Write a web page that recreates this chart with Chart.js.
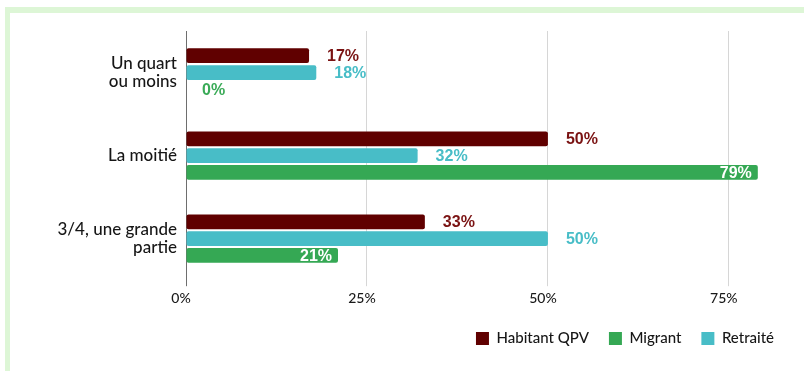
<!DOCTYPE html>
<html lang="fr">
<head>
<meta charset="utf-8">
<title>Part du revenu</title>
<script src="https://cdn.jsdelivr.net/npm/chart.js@4.4.1/dist/chart.umd.min.js"></script>
<style>
  html, body { margin: 0; padding: 0; background: #ffffff; }
  #wrap { position: relative; width: 804px; height: 371px; overflow: hidden; }
  #frame {
    position: absolute; left: 5px; top: 7px; right: -20px; bottom: -20px;
    border-left: 5px solid #ddf6d6; border-top: 6px solid #ddf6d6;
  }
  #chart { position: absolute; left: 0; top: 0; }
</style>
</head>
<body>
<div id="wrap">
  <div id="frame"></div>
  <canvas id="chart" width="804" height="371"></canvas>
</div>
<script>
// Catégories (axe vertical) et séries
const categories = [["Un quart", "ou moins"], "La moitié", ["3/4, une grande", "partie"]];
const habitantQPV = [17, 50, 33];
const retraite = [18, 32, 50];
const migrant = [0, 79, 21];
const xTicks = [0, 25, 50, 75];

const seriesNames = ["Habitant QPV", "Retraité", "Migrant"];
const legendOrder = ["Habitant QPV", "Migrant", "Retraité"];

const COLORS = {
  "Habitant QPV": { bar: "#600000", text: "#7a1212" },
  "Retraité": { bar: "#48bdc7", text: "#48bdc7" },
  "Migrant": { bar: "#35a854", text: "#3aaa57" }
};

// Étiquettes de valeur : à l'extérieur de la barre, ou à l'intérieur (en blanc) pour « Migrant »
const valueLabels = {
  id: "valueLabels",
  afterDatasetsDraw(chart) {
    const ctx = chart.ctx;
    ctx.save();
    ctx.font = "bold 16px 'Liberation Sans', Arial, sans-serif";
    ctx.textBaseline = "middle";
    chart.data.datasets.forEach((ds, di) => {
      const meta = chart.getDatasetMeta(di);
      meta.data.forEach((bar, i) => {
        const v = ds.data[i];
        const txt = v + "%";
        const inside = ds.label === "Migrant" && v > 0;
        if (inside) {
          ctx.fillStyle = "#ffffff";
          ctx.textAlign = "right";
          ctx.fillText(txt, bar.x - 6, bar.y + 1);
        } else {
          ctx.fillStyle = COLORS[ds.label].text;
          ctx.textAlign = "left";
          ctx.fillText(txt, bar.x + (v > 0 ? 18 : 16), bar.y + 1);
        }
      });
    });
    ctx.restore();
  }
};

const seriesData = { "Habitant QPV": habitantQPV, "Retraité": retraite, "Migrant": migrant };

new Chart(document.getElementById("chart"), {
  type: "bar",
  data: {
    labels: categories,
    datasets: seriesNames.map(name => ({
      label: name,
      data: seriesData[name],
      backgroundColor: COLORS[name].bar,
      borderColor: COLORS[name].bar,
      borderWidth: 0,
      borderRadius: 2,
      borderSkipped: false,
      categoryPercentage: 0.607,
      barPercentage: 0.88
    }))
  },
  options: {
    indexAxis: "y",
    responsive: false,
    animation: false,
    devicePixelRatio: 1,
    layout: { padding: { top: 31, right: 10, bottom: 15, left: 0 } },
    scales: {
      x: {
        min: 0,
        max: 84,
        afterBuildTicks(scale) {
          scale.ticks = xTicks.map(v => ({ value: v }));
        },
        ticks: {
          callback: v => v + "%",
          color: "#1a1a1a",
          font: { family: "Lato", size: 14, weight: "500" },
          padding: 4,
          labelOffset: -5,
          maxRotation: 0
        },
        grid: {
          color: ctx => (ctx.tick && ctx.tick.value === 0) ? "#6e6e6e" : "#d6d6d6",
          lineWidth: 1,
          tickLength: 6,
          drawTicks: true
        },
        border: { display: false }
      },
      y: {
        afterFit(scale) { scale.width = 186; },
        ticks: {
          color: "#161616",
          font: { family: "Lato", size: 17, weight: "500", lineHeight: 1.05 },
          padding: 9
        },
        grid: { display: false, drawTicks: false },
        border: { display: true, color: "#6e6e6e", width: 1 }
      }
    },
    plugins: {
      legend: {
        position: "bottom",
        align: "end",
        labels: {
          boxWidth: 13,
          boxHeight: 13,
          padding: 20,
          color: "#161616",
          font: { family: "Lato", size: 15, weight: "500" },
          sort: (a, b) => legendOrder.indexOf(a.text) - legendOrder.indexOf(b.text)
        }
      },
      tooltip: { enabled: false }
    }
  },
  plugins: [valueLabels]
});
</script>
</body>
</html>
